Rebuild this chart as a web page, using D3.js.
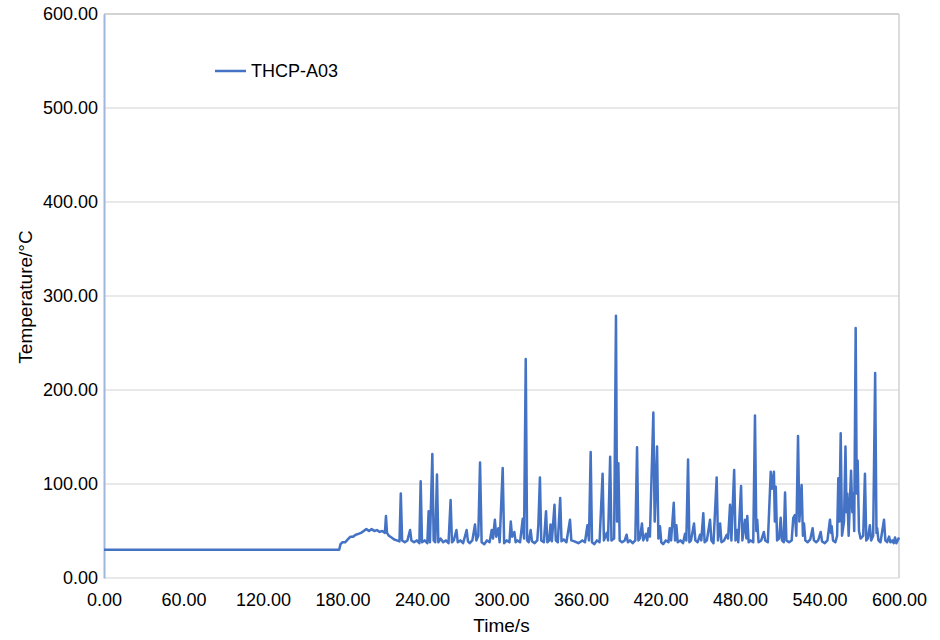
<!DOCTYPE html>
<html>
<head>
<meta charset="utf-8">
<script src="https://cdn.jsdelivr.net/npm/d3@7"></script>
<style>
  body { margin: 0; background: #fff; }
  text { font-family: "Liberation Sans", Arial, sans-serif; fill: #000; }
</style>
</head>
<body>
<div id="chart"></div>
<script>
// setting up constants
const FRAME_WIDTH = 940;
const FRAME_HEIGHT = 640;
const MARGINS = {left: 104, right: 41, top: 14, bottom: 62};
const VIS_WIDTH = FRAME_WIDTH - MARGINS.left - MARGINS.right;
const VIS_HEIGHT = FRAME_HEIGHT - MARGINS.top - MARGINS.bottom;

const SERIES_NAME = "THCP-A03";
const X_TICKS = [0, 60, 120, 180, 240, 300, 360, 420, 480, 540, 600];
const Y_TICKS = [0, 100, 200, 300, 400, 500, 600];

// [time (s), temperature (°C)]
const THCP_A03 = [
  [0,30],[177.5,30],[178.5,36],[180,38],[182,38],[184,41],[186,44],[188,44],[190,46],[192,47],
  [194,48],[196,50],[198,52],[200,50],[202,52],[204,50],[206,51],[208,49],[210,50],[212,48],
  [212.8,66],[213.6,48],[215,45],[217,43],[219,41],[221,40],[223,39],[224,90],[225,40],[227,38],
  [229,40],[231,51],[232,40],[234,38],[236,40],[238,37],[239,103],[240,38],[242,40],[244,37],
  [245,71],[246,38],[247.8,132],[248.8,40],[250,38],[251.3,110],[252.3,38],[254,42],[256,38],[258,40],
  [260,37],[261.6,83],[262.6,38],[264,40],[266,51],[267,38],[269,40],[271,37],[273.7,51],[274.7,39],
  [276,37],[278,40],[280,57],[281,40],[282.5,45],[283.8,123],[285,38],[287,36],[289,40],[291,38],
  [292.6,51],[293.6,42],[295,62],[296,44],[297.6,53],[298.6,38],[300.9,117],[302,37],[304,40],[306,38],
  [307,60],[308,44],[309.7,49],[310.7,38],[312,40],[314,38],[316,63],[317,42],[318.3,233],[319.3,40],
  [320.5,38],[322,51],[323,39],[325,37],[327,40],[327.8,56],[329,107],[330,40],[332,38],[333.6,71],
  [334.6,38],[336,40],[337,57],[338,39],[340,78],[341,40],[342.5,38],[344.3,85],[345.3,39],[347,41],
  [349,38],[351.7,62],[352.7,40],[355,39],[358,37],[361,40],[363,38],[364.8,56],[366,40],[367.3,134],
  [368.3,38],[370,36],[372,40],[374,38],[376.3,111],[377.3,40],[379.4,48],[380.4,40],[382,129],[383,40],
  [385,42],[386.4,279],[387.2,60],[388.2,122],[389.2,40],[391,38],[393,40],[394.4,46],[395.4,38],[397,40],
  [399,37],[401,40],[402.3,139],[403.3,40],[404.5,42],[406,58],[407,40],[409,47],[410,40],[411,53],
  [412,44],[414.6,176],[415.6,60],[417.4,140],[418.4,42],[419.6,55],[420.6,38],[422,36],[424,40],[426,38],
  [427,53],[428,40],[430,80],[431,40],[432,56],[433,38],[435,40],[437,37],[438.5,47],[439.5,40],
  [440.8,126],[441.8,38],[443,40],[445.3,58],[446.3,40],[448,38],[449.8,46],[450.8,40],[452.3,69],[453.3,38],
  [455,40],[457.4,62],[458.4,40],[460,37],[462.4,107],[463.4,40],[465,58],[466,38],[468,40],[470,46],
  [471,42],[472.5,78],[473.5,40],[475.6,115],[476.6,40],[477.7,51],[478.7,38],[480.8,98],[481.8,40],[483.8,62],
  [484.8,42],[485.5,66],[486.5,38],[488,40],[490,38],[491.3,173],[492.3,50],[493,62],[494,38],[496,40],
  [498,49],[499,40],[501,38],[503.2,113],[504.2,95],[505.6,113],[506.3,60],[507,97],[508,40],[509.5,42],
  [510.7,64],[511.7,40],[513,38],[514,91],[515,40],[517,38],[519,40],[520.2,64],[521.5,67],[522.5,45],
  [523.8,151],[524.8,60],[526.5,99],[527.5,45],[528.3,58],[529.3,40],[531,38],[533,41],[534.8,53],[535.8,40],
  [537.5,38],[539,40],[540.9,49],[541.9,39],[544,37],[546,40],[547.9,62],[548.7,48],[549.2,55],[550.2,40],
  [552,38],[553.3,45],[554.2,106],[555,60],[556,154],[557,45],[558.5,60],[559.6,140],[560.4,70],[561,90],
  [562,45],[563.8,114],[564.8,70],[565.5,90],[566.2,50],[567.3,266],[568.1,90],[568.8,125],[569.8,50],[571,42],
  [573,45],[574.3,111],[575.3,40],[576.5,42],[578,56],[579,40],[580.5,45],[582,218],[583,48],[583.5,53],
  [584.5,40],[586,38],[588.7,62],[589.7,40],[591,38],[592.5,44],[593.5,38],[595,40],[596,37],[597,43],
  [598,37],[599,40],[600,43]
];

const FRAME = d3.select("#chart")
  .append("svg")
  .attr("width", FRAME_WIDTH)
  .attr("height", FRAME_HEIGHT);

const xScale = d3.scaleLinear().domain([0, 600]).range([0, VIS_WIDTH]);
const yScale = d3.scaleLinear().domain([0, 600]).range([VIS_HEIGHT, 0]);

const plot = FRAME.append("g")
  .attr("transform", "translate(" + MARGINS.left + "," + MARGINS.top + ")");

// horizontal gridlines
plot.append("g")
  .selectAll("line")
  .data(Y_TICKS)
  .enter()
  .append("line")
  .attr("x1", 0)
  .attr("x2", VIS_WIDTH)
  .attr("y1", (d) => yScale(d))
  .attr("y2", (d) => yScale(d))
  .attr("stroke", (d) => d === 600 ? "#c4c4c4" : "#e2e2e2")
  .attr("stroke-width", 1.5);

// right border
plot.append("line")
  .attr("x1", VIS_WIDTH).attr("x2", VIS_WIDTH)
  .attr("y1", 0).attr("y2", VIS_HEIGHT)
  .attr("stroke", "#d0d0d0")
  .attr("stroke-width", 1.5);

// y axis
const yAxis = plot.append("g")
  .call(d3.axisLeft(yScale).tickValues(Y_TICKS).tickFormat(d3.format(".2f")).tickSize(0).tickPadding(6));
yAxis.select(".domain").attr("stroke", "#9fb6df").attr("stroke-width", 2);
yAxis.selectAll("text").attr("font-size", "18px").attr("fill", "#000");

// x axis
const xAxis = plot.append("g")
  .attr("transform", "translate(0," + VIS_HEIGHT + ")")
  .call(d3.axisBottom(xScale).tickValues(X_TICKS).tickFormat(d3.format(".2f")).tickSize(0).tickPadding(15));
xAxis.select(".domain").remove();
xAxis.selectAll("text").attr("font-size", "18px").attr("fill", "#000");

// series line
const line = d3.line()
  .x((d) => xScale(d[0]))
  .y((d) => yScale(d[1]));

plot.append("path")
  .datum(THCP_A03)
  .attr("d", line)
  .attr("fill", "none")
  .attr("stroke", "#4472c4")
  .attr("stroke-width", 2.5)
  .attr("stroke-linejoin", "round");

// legend
const legend = FRAME.append("g").attr("transform", "translate(215,71)");
legend.append("line")
  .attr("x1", 0).attr("x2", 31)
  .attr("stroke", "#4472c4")
  .attr("stroke-width", 2.5);
legend.append("text")
  .attr("x", 36)
  .attr("dy", "0.35em")
  .attr("font-size", "18px")
  .text(SERIES_NAME);

// axis titles
FRAME.append("text")
  .attr("x", MARGINS.left + VIS_WIDTH / 2)
  .attr("y", 632)
  .attr("text-anchor", "middle")
  .attr("font-size", "19px")
  .text("Time/s");

FRAME.append("text")
  .attr("transform", "translate(32," + 297 + ") rotate(-90)")
  .attr("text-anchor", "middle")
  .attr("font-size", "19px")
  .text("Temperature/°C");
</script>
</body>
</html>
